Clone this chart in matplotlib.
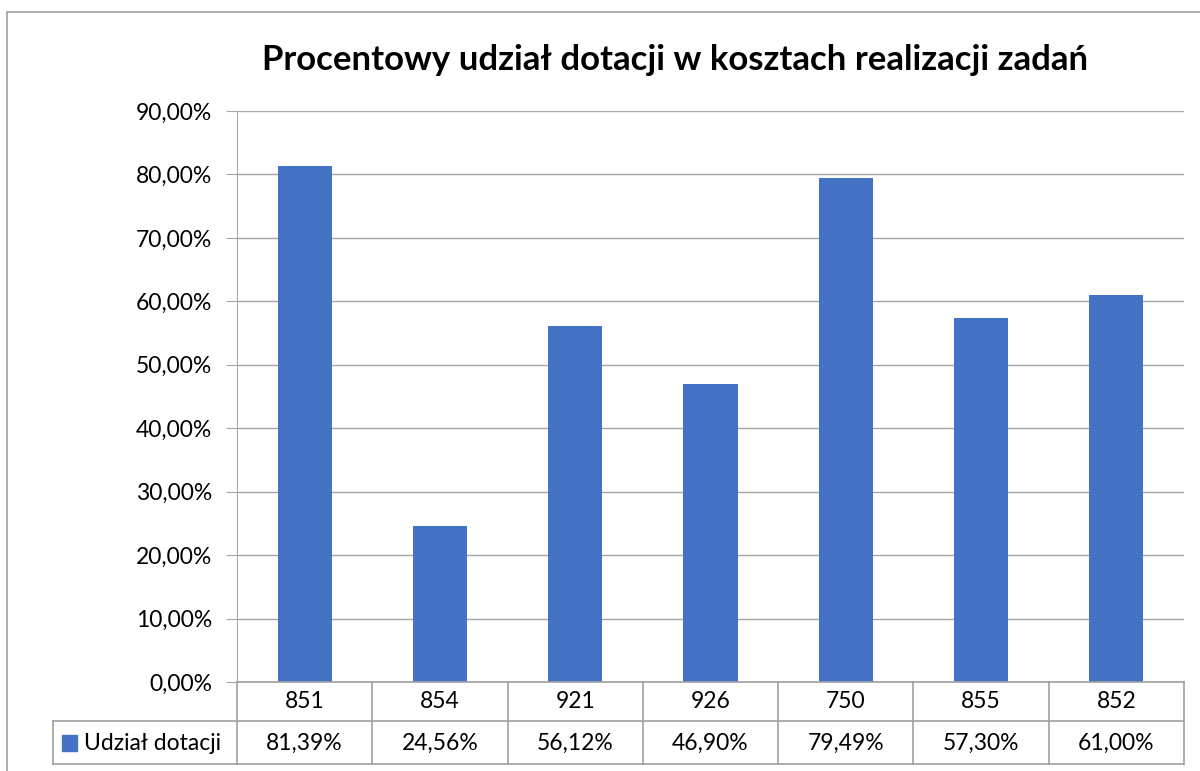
import matplotlib.pyplot as plt
from matplotlib.patches import Rectangle
from matplotlib.ticker import FuncFormatter

plt.rcParams['font.family'] = ['Lato', 'DejaVu Sans']

categories = ['851', '854', '921', '926', '750', '855', '852']
values = [81.39, 24.56, 56.12, 46.90, 79.49, 57.30, 61.00]
series_name = 'Udział dotacji'
title = 'Procentowy udział dotacji w kosztach realizacji zadań'

blue = '#4472C4'
grid = '#A6A6A6'

W, H = 1200, 771
fig = plt.figure(figsize=(12, 7.71), dpi=100)

# outer chart border
fig.add_artist(Rectangle((7 / W, -0.1), 1.2, (771 - 12) / H + 0.1, transform=fig.transFigure,
                         fill=False, ec='#A0A0A0', lw=1.2))

left, right, top, bottom = 237, 1184, 111, 682
ax = fig.add_axes([left / W, (H - bottom) / H, (right - left) / W, (bottom - top) / H])
x = list(range(len(categories)))
ax.bar(x, values, width=0.4, color=blue, zorder=3)
ax.set_xlim(-0.5, len(categories) - 0.5)
ax.set_ylim(0, 90)
ax.set_yticks(range(0, 91, 10))
ax.yaxis.set_major_formatter(FuncFormatter(lambda v, p: f'{v:.2f}%'.replace('.', ',')))
ax.grid(axis='y', color=grid, lw=1, zorder=0)
ax.tick_params(axis='y', length=8, color=grid, labelsize=16.5, pad=10)
ax.tick_params(axis='x', length=0, labelbottom=False)
for s in ['top', 'right', 'bottom']:
    ax.spines[s].set_visible(False)
ax.spines['left'].set_color(grid)
fig.text(675 / W, (H - 60) / H, title, ha='center', va='center', fontsize=25, fontweight='bold')

# data table below the plot
tab_left, tab_bottom = 53, 764
n = len(categories)
colw = (right - left) / n
xl = -0.5 - (left - tab_left) / colw
tax = fig.add_axes([tab_left / W, (H - tab_bottom) / H, (right - tab_left) / W, (tab_bottom - bottom) / H])
tax.set_xlim(xl, n - 0.5)
tax.set_ylim(2, 0)
tax.axis('off')
lc = '#A0A0A0'
lk = dict(color=lc, lw=1.2, clip_on=False)
tax.plot([-0.5, n - 0.5], [0, 0], **lk)
tax.plot([xl, n - 0.5], [0.95, 0.95], **lk)
tax.plot([xl, n - 0.5], [2, 2], **lk)
tax.plot([xl, xl], [0.95, 2], **lk)
for i in range(n + 1):
    tax.plot([i - 0.5, i - 0.5], [0, 2], **lk)
for i, (c, v) in enumerate(zip(categories, values)):
    tax.text(i, 0.47, c, ha='center', va='center', fontsize=16.5)
    tax.text(i, 1.5, f'{v:.2f}%'.replace('.', ','), ha='center', va='center', fontsize=16.5)
tax.add_patch(Rectangle((xl + 9 / colw, 1.3), 15 / colw, 0.38, color=blue, clip_on=False))
tax.text(xl + 31 / colw, 1.5, series_name, ha='left', va='center', fontsize=16.5)

fig.savefig('out.png', dpi=100)
